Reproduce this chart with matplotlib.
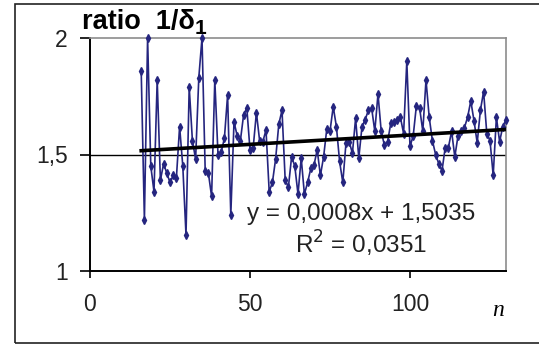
import numpy as np
import matplotlib.pyplot as plt
from matplotlib.patches import Rectangle

plt.rcParams['font.family'] = ['Liberation Sans', 'DejaVu Sans']

# ratio 1/delta_1 for n = 16 .. 130
n_start = 16
ratio = [1.86, 1.22, 2.00, 1.45, 1.34, 1.82, 1.39, 1.46, 1.42, 1.38,
         1.41, 1.40, 1.62, 1.45, 1.155, 1.79, 1.56, 1.48, 1.83, 2.00,
         1.43, 1.42, 1.32, 1.82, 1.50, 1.51, 1.57, 1.755, 1.24, 1.64,
         1.58, 1.56, 1.67, 1.70, 1.52, 1.53, 1.68, 1.56, 1.555, 1.605,
         1.34, 1.38, 1.48, 1.63, 1.69, 1.39, 1.36, 1.49, 1.45, 1.33,
         1.485, 1.33, 1.38, 1.44, 1.455, 1.52, 1.41, 1.49, 1.61, 1.60,
         1.705, 1.62, 1.47, 1.38, 1.55, 1.555, 1.505, 1.655, 1.485, 1.62,
         1.65, 1.69, 1.70, 1.60, 1.76, 1.60, 1.54, 1.555, 1.635, 1.64,
         1.65, 1.66, 1.59, 1.90, 1.535, 1.58, 1.71, 1.70, 1.60, 1.82,
         1.66, 1.56, 1.50, 1.46, 1.43, 1.53, 1.53, 1.60, 1.49, 1.58,
         1.60, 1.615, 1.66, 1.73, 1.645, 1.55, 1.69, 1.77, 1.59, 1.56,
         1.41, 1.66, 1.555, 1.62, 1.65]
n = list(range(n_start, n_start + len(ratio)))

# trend line given on the chart
slope = 0.0008
intercept = 1.5035
r2 = 0.0351

fig = plt.figure(figsize=(5.39, 3.45), dpi=100)
fig.patches.append(Rectangle((15 / 539, 2 / 345), 1.0, 339 / 345, transform=fig.transFigure,
                             fill=False, edgecolor='#222222', linewidth=1.2))

ax = fig.add_axes([90 / 539, 74 / 345, 416 / 539, 233 / 345])

ax.plot(n, ratio, color='#25257f', linewidth=1.2, marker='d', markersize=3.8,
        clip_on=False, zorder=3)

xt = np.array([n[0], n[-1]])
ax.plot(xt, slope * xt + intercept, color='black', linewidth=2.6, zorder=4)

ax.axhline(1.5, color='black', linewidth=1.0, zorder=1)

ax.set_xlim(0, 130)
ax.set_ylim(1, 2)
ax.set_xticks([0, 50, 100])
ax.set_yticks([1, 1.5, 2])
ax.set_yticklabels(['1', '1,5', '2'])

for side in ['left', 'bottom']:
    ax.spines[side].set_color('black')
    ax.spines[side].set_linewidth(1.4)
for side in ['top', 'right']:
    ax.spines[side].set_color('#8c8c8c')
    ax.spines[side].set_linewidth(1.2)

ax.tick_params(axis='y', direction='out', length=7, width=1.2, pad=9, labelsize=16.5,
               labelcolor='#222222')
ax.tick_params(axis='x', direction='out', length=5, width=1.2, pad=11, labelsize=16.5,
               labelcolor='#222222')

ax.text(0.652, 0.245, 'y = 0,0008x + 1,5035', transform=ax.transAxes,
        ha='center', va='center', fontsize=17.5, color='#222222')
ax.text(0.652, 0.115, 'R$^2$ = 0,0351', transform=ax.transAxes,
        ha='center', va='center', fontsize=17.5, color='#222222')

fig.text(82 / 539, (345 - 29) / 345, 'ratio  1/δ', fontsize=19.5, fontweight='bold',
         ha='left', va='baseline')
fig.text(195 / 539, (345 - 34) / 345, '1', fontsize=15, fontweight='bold',
         ha='left', va='baseline')

fig.text(498 / 539, (345 - 311) / 345, 'n', fontsize=17, style='italic',
         family='Liberation Serif', ha='center', va='center')

fig.savefig('out.png', dpi=100)
